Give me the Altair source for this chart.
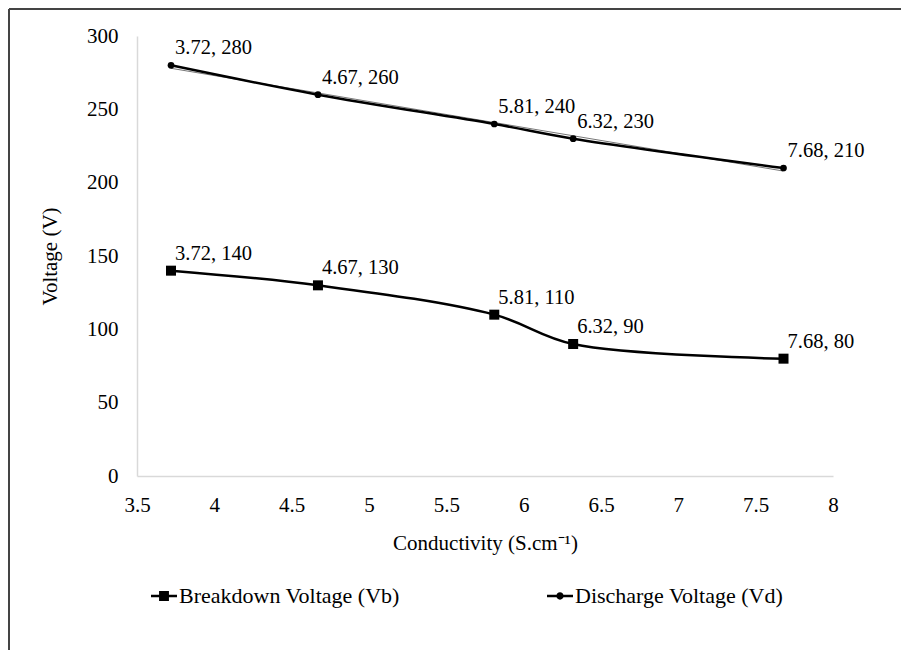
import altair as alt
import pandas as pd

conductivity = [3.72, 4.67, 5.81, 6.32, 7.68]
breakdown = [140, 130, 110, 90, 80]
discharge = [280, 260, 240, 230, 210]
series_names = ["Breakdown Voltage (Vb)", "Discharge Voltage (Vd)"]
x_ticks = [3.5, 4, 4.5, 5, 5.5, 6, 6.5, 7, 7.5, 8]
y_ticks = [0, 50, 100, 150, 200, 250, 300]

rows = []
for c, b, d in zip(conductivity, breakdown, discharge):
    rows.append({"x": c, "y": b, "series": series_names[0], "label": f"{c:g}, {b}"})
    rows.append({"x": c, "y": d, "series": series_names[1], "label": f"{c:g}, {d}"})
df = pd.DataFrame(rows)

FONT = "Liberation Serif, Times New Roman, serif"

xenc = alt.X(
    "x:Q",
    scale=alt.Scale(domain=[3.5, 8], nice=False, zero=False),
    axis=alt.Axis(
        values=x_ticks, format="~g", title="Conductivity  (S.cm\u207b\u00b9)",
        grid=False, ticks=False, domainColor="#d9d9d9", domainWidth=1.5,
        labelFont=FONT, labelFontSize=21, labelColor="#000", labelPadding=18,
        titleFont=FONT, titleFontSize=21, titleFontWeight="normal", titleColor="#000",
        titlePadding=17, labelFlush=False,
    ),
)
yenc = alt.Y(
    "y:Q",
    scale=alt.Scale(domain=[0, 300], nice=False),
    axis=alt.Axis(
        values=y_ticks, title="Voltage (V)",
        grid=False, ticks=False, domainColor="#d9d9d9", domainWidth=1.5,
        labelFont=FONT, labelFontSize=21, labelColor="#000", labelPadding=19,
        titleFont=FONT, titleFontSize=21, titleFontWeight="normal", titleColor="#000",
        titlePadding=26,
    ),
)

base = alt.Chart(df)

lines = base.mark_line(interpolate="catmull-rom", color="black", strokeWidth=2.5).encode(
    x=xenc, y=yenc, detail="series:N"
)

trend = (
    base.transform_filter(alt.datum.series == series_names[1])
    .transform_regression("x", "y")
    .mark_line(color="#777777", strokeWidth=1)
    .encode(x="x:Q", y="y:Q")
)

pts_b = (
    base.transform_filter(alt.datum.series == series_names[0])
    .mark_point(shape="square", filled=True, size=100, color="black", opacity=1)
    .encode(x="x:Q", y="y:Q")
)
pts_d = (
    base.transform_filter(alt.datum.series == series_names[1])
    .mark_point(shape="circle", filled=True, size=45, color="black", opacity=1)
    .encode(x="x:Q", y="y:Q")
)

labels = base.mark_text(
    align="left", baseline="middle", dx=4, dy=-17, font=FONT, fontSize=20.5, color="black"
).encode(x="x:Q", y="y:Q", text="label:N")

sq_path = "M-1,-0.09H1V0.09H-1Z M-0.38,-0.38H0.38V0.38H-0.38Z"
ci_path = ("M-1,-0.09H1V0.09H-1Z M-0.28,0A0.28,0.28 0 1,1 0.28,0"
           "A0.28,0.28 0 1,1 -0.28,0Z")

legend_layer = (
    base.transform_filter("datum.x < 0")
    .mark_point(filled=True, color="black", opacity=1)
    .encode(
        x="x:Q", y="y:Q",
        shape=alt.Shape(
            "series:N",
            scale=alt.Scale(domain=series_names, range=[sq_path, ci_path]),
            legend=alt.Legend(
                title=None, orient="none", legendX=14, legendY=547,
                direction="horizontal", symbolSize=676, labelOffset=2,
                columnPadding=147, labelFont=FONT, labelFontSize=22,
                labelColor="#000", symbolFillColor="black", symbolStrokeColor="black",
                symbolStrokeWidth=0, symbolOpacity=1, labelLimit=400,
            ),
        ),
    )
)

frame = alt.Chart(alt.Data(values=[{}]))
frame_left = frame.mark_rule(color="#444444", strokeWidth=2).encode(
    x=alt.value(-128), y=alt.value(-27), y2=alt.value(620)
)
frame_top = frame.mark_rule(color="#444444", strokeWidth=2).encode(
    x=alt.value(-128), x2=alt.value(770), y=alt.value(-27)
)

chart = (
    alt.layer(trend, lines, pts_b, pts_d, labels, legend_layer, frame_left, frame_top)
    .resolve_scale(shape="independent")
    .properties(
        width=696, height=440,
        padding={"left": 129, "top": 28, "right": 68, "bottom": 174},
        autosize=alt.AutoSizeParams(type="none"),
        background="white",
    )
    .configure_view(stroke=None)
)

chart.save("out.html", embed_options={"renderer": "svg", "actions": False})
